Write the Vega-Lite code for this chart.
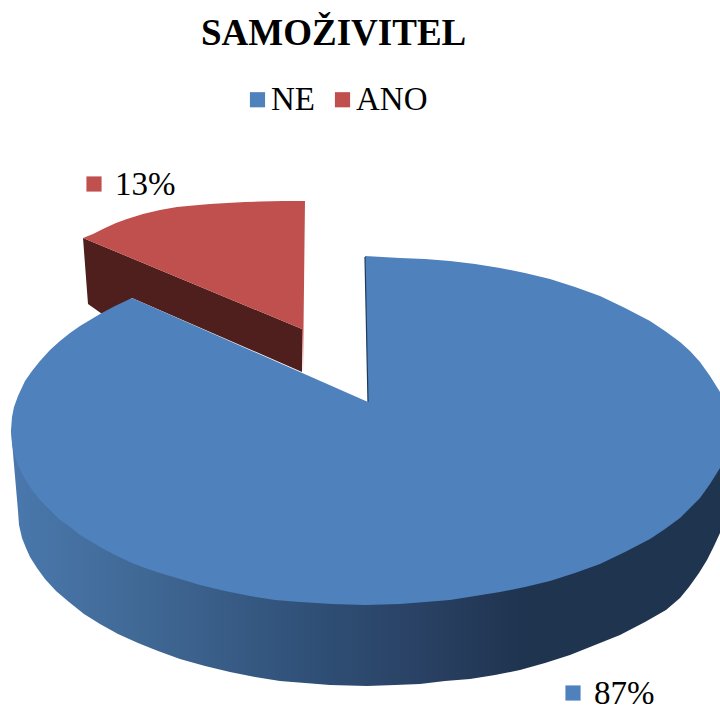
{
"$schema":"https://vega.github.io/schema/vega-lite/v6.json",
"width":720,"height":706,"autosize":"none","padding":0,"background":"white",
"config":{"view":{"stroke":null}},
"title":{"text":"SAMOŽIVITEL","font":"Liberation Serif","fontWeight":"bold","fontSize":37,"color":"#000000","anchor":"start","frame":"group","dx":201,"dy":36,"offset":-46,"baseline":"alphabetic"},
"datasets":{
"redside":[{"seq":1,"x":83,"y":238},{"seq":2,"x":302,"y":329},{"seq":3,"x":302,"y":372},{"seq":4,"x":132,"y":298},{"seq":5,"x":105,"y":316},{"seq":6,"x":88,"y":304}],
"redtop":[{"seq":1,"x":83,"y":238},{"seq":2,"x":93,"y":234},{"seq":3,"x":105,"y":228},{"seq":4,"x":116,"y":223},{"seq":5,"x":127,"y":219},{"seq":6,"x":143,"y":214},{"seq":7,"x":160,"y":210},{"seq":8,"x":177,"y":207},{"seq":9,"x":193,"y":205.5},{"seq":10,"x":210,"y":204},{"seq":11,"x":227,"y":203},{"seq":12,"x":245,"y":202},{"seq":13,"x":260,"y":201.5},{"seq":14,"x":283,"y":201},{"seq":15,"x":305,"y":201},{"seq":16,"x":303,"y":372},{"seq":17,"x":302,"y":329}],
"blueside":[{"seq":1,"x":11,"y":430},{"seq":2,"x":720,"y":430},{"seq":3,"x":720,"y":533},{"seq":4,"x":714,"y":546},{"seq":5,"x":707,"y":560},{"seq":6,"x":699,"y":573},{"seq":7,"x":689,"y":587},{"seq":8,"x":680,"y":598},{"seq":9,"x":666,"y":610},{"seq":10,"x":645,"y":622},{"seq":11,"x":620,"y":635},{"seq":12,"x":595,"y":645},{"seq":13,"x":570,"y":655},{"seq":14,"x":545,"y":663},{"seq":15,"x":520,"y":670},{"seq":16,"x":495,"y":675},{"seq":17,"x":470,"y":679},{"seq":18,"x":445,"y":681},{"seq":19,"x":420,"y":684},{"seq":20,"x":395,"y":685},{"seq":21,"x":367,"y":686},{"seq":22,"x":330,"y":685},{"seq":23,"x":305,"y":683},{"seq":24,"x":280,"y":681},{"seq":25,"x":255,"y":677},{"seq":26,"x":230,"y":672},{"seq":27,"x":205,"y":666},{"seq":28,"x":180,"y":659},{"seq":29,"x":158,"y":651},{"seq":30,"x":138,"y":643},{"seq":31,"x":118,"y":634},{"seq":32,"x":100,"y":624},{"seq":33,"x":84,"y":614},{"seq":34,"x":69,"y":602},{"seq":35,"x":56,"y":591},{"seq":36,"x":45,"y":579},{"seq":37,"x":37,"y":568},{"seq":38,"x":30,"y":557},{"seq":39,"x":26,"y":548},{"seq":40,"x":22,"y":538},{"seq":41,"x":19,"y":525},{"seq":42,"x":18,"y":511}],
"bluetop":[{"seq":1,"x":365,"y":256},{"seq":2,"x":400,"y":258},{"seq":3,"x":425,"y":259},{"seq":4,"x":450,"y":261},{"seq":5,"x":475,"y":264},{"seq":6,"x":500,"y":268},{"seq":7,"x":525,"y":273},{"seq":8,"x":550,"y":279},{"seq":9,"x":575,"y":287},{"seq":10,"x":600,"y":296},{"seq":11,"x":625,"y":308},{"seq":12,"x":650,"y":321},{"seq":13,"x":665,"y":331},{"seq":14,"x":680,"y":342},{"seq":15,"x":690,"y":351},{"seq":16,"x":700,"y":362},{"seq":17,"x":710,"y":376},{"seq":18,"x":720,"y":392},{"seq":19,"x":720,"y":468},{"seq":20,"x":710,"y":484},{"seq":21,"x":700,"y":498},{"seq":22,"x":690,"y":508},{"seq":23,"x":680,"y":518},{"seq":24,"x":665,"y":529},{"seq":25,"x":650,"y":539},{"seq":26,"x":625,"y":552},{"seq":27,"x":600,"y":564},{"seq":28,"x":575,"y":573},{"seq":29,"x":550,"y":581},{"seq":30,"x":525,"y":587},{"seq":31,"x":500,"y":592},{"seq":32,"x":475,"y":596},{"seq":33,"x":450,"y":600},{"seq":34,"x":425,"y":602},{"seq":35,"x":400,"y":604},{"seq":36,"x":365,"y":605},{"seq":37,"x":332,"y":604},{"seq":38,"x":300,"y":602},{"seq":39,"x":275,"y":600},{"seq":40,"x":250,"y":596},{"seq":41,"x":225,"y":591},{"seq":42,"x":200,"y":585},{"seq":43,"x":180,"y":579},{"seq":44,"x":160,"y":573},{"seq":45,"x":145,"y":568},{"seq":46,"x":132,"y":563},{"seq":47,"x":115,"y":555},{"seq":48,"x":100,"y":547},{"seq":49,"x":90,"y":541},{"seq":50,"x":80,"y":535},{"seq":51,"x":70,"y":527},{"seq":52,"x":60,"y":520},{"seq":53,"x":50,"y":510},{"seq":54,"x":40,"y":500},{"seq":55,"x":32,"y":490},{"seq":56,"x":25,"y":479},{"seq":57,"x":18,"y":465},{"seq":58,"x":14,"y":454},{"seq":59,"x":12,"y":444},{"seq":60,"x":11,"y":430},{"seq":61,"x":12,"y":417},{"seq":62,"x":14,"y":407},{"seq":63,"x":18,"y":396},{"seq":64,"x":25,"y":381},{"seq":65,"x":32,"y":371},{"seq":66,"x":40,"y":361},{"seq":67,"x":50,"y":350},{"seq":68,"x":60,"y":341},{"seq":69,"x":70,"y":333},{"seq":70,"x":80,"y":326},{"seq":71,"x":90,"y":320},{"seq":72,"x":100,"y":314},{"seq":73,"x":115,"y":306},{"seq":74,"x":132,"y":298},{"seq":75,"x":368,"y":402}],
"edge":[{"seq":1,"x":365,"y":257},{"seq":2,"x":368,"y":402}],
"shares":[{"category":"NE","share":0.87,"x":573,"y":693},{"category":"ANO","share":0.13,"x":94,"y":184}]
},
"encoding":{
"x":{"field":"x","type":"quantitative","scale":{"domain":[0,720],"nice":false,"zero":false},"axis":null},
"y":{"field":"y","type":"quantitative","scale":{"domain":[706,0],"nice":false,"zero":false},"axis":null}
},
"layer":[
{"data":{"name":"redside"},"mark":{"type":"line","fill":"#4f1f1e","stroke":null},"encoding":{"order":{"field":"seq"}}},
{"data":{"name":"redtop"},"mark":{"type":"line","fill":"#c0504d","stroke":null},"encoding":{"order":{"field":"seq"}}},
{"data":{"name":"blueside"},"mark":{"type":"line","stroke":null,"fill":{"x1":0,"x2":1,"y1":0,"y2":0,"gradient":"linear","stops":[{"offset":0,"color":"#4a78ad"},{"offset":0.2,"color":"#3f6793"},{"offset":0.4,"color":"#31527a"},{"offset":0.6,"color":"#283f61"},{"offset":0.72,"color":"#1f344f"},{"offset":1,"color":"#1f344f"}]}},"encoding":{"order":{"field":"seq"}}},
{"data":{"name":"bluetop"},"mark":{"type":"line","fill":"#4f81bd","stroke":null},"encoding":{"order":{"field":"seq"}}},
{"data":{"name":"edge"},"mark":{"type":"line","stroke":"#1f3a5a","strokeWidth":1.2},"encoding":{"order":{"field":"seq"}}},
{"data":{"name":"shares"},"mark":{"type":"point","shape":"square","filled":true,"size":230,"opacity":1},"encoding":{"fill":{"field":"category","type":"nominal","scale":{"domain":["NE","ANO"],"range":["#4f81bd","#c0504d"]},"legend":{"orient":"none","legendX":241,"legendY":83,"direction":"horizontal","title":null,"symbolType":"square","symbolSize":230,"symbolStrokeWidth":0,"symbolOpacity":1,"labelFont":"Liberation Serif","labelFontSize":33,"labelColor":"#000000","columnPadding":11,"labelOffset":-3}}}},
{"data":{"name":"shares"},"mark":{"type":"text","font":"Liberation Serif","fontSize":33,"align":"left","baseline":"middle","dx":21,"dy":1,"color":"#000000"},"encoding":{"text":{"field":"share","type":"quantitative","format":".0%"}}}
]
}
